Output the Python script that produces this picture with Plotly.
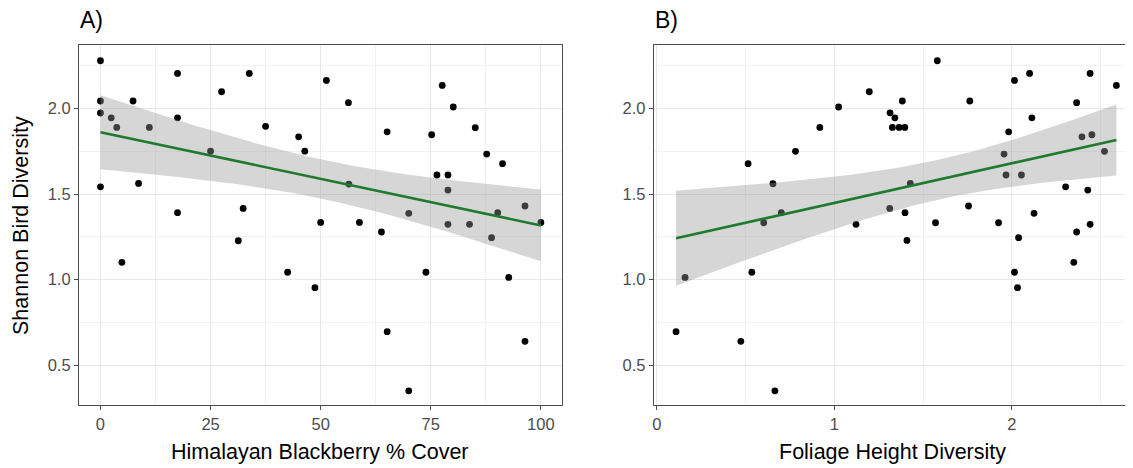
import numpy as np
import plotly.graph_objects as go

# Panel A: Himalayan Blackberry % Cover vs Shannon Bird Diversity
cover_x = [0, 0, 0, 0, 2.45, 3.7, 4.87, 7.4, 8.65, 11.1, 17.5, 17.5, 17.5, 25.0, 27.5,
           31.3, 32.4, 33.8, 37.5, 42.5, 45.0, 46.4, 48.7, 50.0, 51.3, 56.3, 56.4, 58.8,
           63.8, 65.1, 65.1, 70.0, 70.0, 73.9, 75.2, 76.4, 77.6, 78.9, 78.9, 78.9, 80.1,
           83.8, 85.1, 87.7, 88.8, 90.2, 91.3, 92.7, 96.4, 96.4, 100.0]
cover_y = [2.278, 2.043, 1.973, 1.542, 1.945, 1.889, 1.101, 2.043, 1.562, 1.889, 2.204, 1.945,
           1.391, 1.750, 2.097, 1.227, 1.416, 2.204, 1.895, 1.043, 1.834, 1.750, 0.953, 1.334,
           2.163, 2.033, 1.558, 1.334, 1.278, 1.863, 0.696, 1.387, 0.351, 1.043, 1.846, 1.611,
           2.134, 1.611, 1.523, 1.323, 2.008, 1.323, 1.887, 1.733, 1.245, 1.391, 1.677, 1.013,
           1.430, 0.640, 1.334]

# Panel B: Foliage Height Diversity vs Shannon Bird Diversity
fhd_x = [0.108, 0.159, 0.473, 0.514, 0.535, 0.602, 0.654, 0.665, 0.701, 0.781, 0.918, 1.024,
         1.122, 1.197, 1.312, 1.314, 1.341, 1.327, 1.365, 1.397, 1.383, 1.398, 1.409, 1.428,
         1.570, 1.580, 1.756, 1.763, 1.925, 1.956, 1.967, 1.982, 2.015, 2.015, 2.032, 2.038,
         2.054, 2.100, 2.113, 2.125, 2.303, 2.349, 2.365, 2.365, 2.395, 2.428, 2.441, 2.441,
         2.451, 2.522, 2.589]
fhd_y = [0.696, 1.013, 0.640, 1.677, 1.043, 1.332, 1.560, 0.351, 1.391, 1.749, 1.889, 2.008,
         1.323, 2.097, 1.416, 1.974, 1.945, 1.889, 1.889, 1.889, 2.043, 1.391, 1.229, 1.562,
         1.332, 2.278, 1.430, 2.043, 1.332, 1.733, 1.611, 1.863, 2.163, 1.043, 0.953, 1.245,
         1.611, 2.204, 1.945, 1.387, 1.542, 1.101, 2.033, 1.278, 1.834, 1.523, 2.204, 1.323,
         1.846, 1.749, 2.134]

y_ticks = [0.5, 1.0, 1.5, 2.0]
y_tick_text = ["0.5", "1.0", "1.5", "2.0"]
cover_ticks = [0, 25, 50, 75, 100]
fhd_ticks = [0, 1, 2]

panel_titles = ["A)", "B)"]
x_titles = ["Himalayan Blackberry % Cover", "Foliage Height Diversity"]
y_title = "Shannon Bird Diversity"

T95 = 2.0096  # t quantile, df = 49


def lm_band(x, y, n=80):
    x = np.asarray(x, float)
    y = np.asarray(y, float)
    b1, b0 = np.polyfit(x, y, 1)
    resid = y - (b0 + b1 * x)
    s = np.sqrt(np.sum(resid ** 2) / (len(x) - 2))
    xs = np.linspace(x.min(), x.max(), n)
    fit = b0 + b1 * xs
    se = s * np.sqrt(1 / len(x) + (xs - x.mean()) ** 2 / np.sum((x - x.mean()) ** 2))
    return xs, fit, fit - T95 * se, fit + T95 * se


# the page body adds an 8px margin, so the figure is drawn 8px in from the corner
OFF = 8
W, H = 1133 - OFF, 468 - OFF
FONT = "Liberation Sans"


def px(v):
    return (v - OFF) / W


def py(v):
    return 1 - (v - OFF) / H


fig = go.Figure()

panels = [(cover_x, cover_y, "x", "y"), (fhd_x, fhd_y, "x2", "y2")]
for xv, yv, xa, ya in panels:
    fig.add_trace(go.Scatter(x=xv, y=yv, mode="markers", xaxis=xa, yaxis=ya,
                             marker=dict(color="black", size=6.8, line=dict(width=0)),
                             showlegend=False, hoverinfo="x+y"))
    xs, fit, lo, hi = lm_band(xv, yv)
    fig.add_trace(go.Scatter(x=np.concatenate([xs, xs[::-1]]),
                             y=np.concatenate([hi, lo[::-1]]),
                             fill="toself", fillcolor="rgba(153,153,153,0.4)",
                             line=dict(width=0), mode="lines", xaxis=xa, yaxis=ya,
                             showlegend=False, hoverinfo="skip"))
    fig.add_trace(go.Scatter(x=xs, y=fit, mode="lines", xaxis=xa, yaxis=ya,
                             line=dict(color="#1f7a2e", width=2.6),
                             showlegend=False, hoverinfo="skip"))

ydom = [py(405), py(45)]
minor_style = dict(showgrid=True, gridcolor="#f2f2f2", gridwidth=0.9, ticks="")
common_axis = dict(showline=True, linecolor="#4d4d4d", linewidth=1, mirror=True,
                   showgrid=True, gridcolor="#e8e8e8", gridwidth=1.3,
                   ticks="outside", ticklen=4, tickcolor="#4d4d4d", tickwidth=1.2,
                   tickfont=dict(family=FONT, size=16.5, color="#4d4d4d"),
                   zeroline=False)

yaxis_common = dict(common_axis, range=[0.268, 2.37], tickvals=y_ticks, ticktext=y_tick_text,
                    domain=ydom)
fig.update_layout(
    width=W, height=H,
    margin=dict(l=0, r=0, t=0, b=0),
    paper_bgcolor="white", plot_bgcolor="white",
    xaxis=dict(common_axis, domain=[px(77), px(561)], range=[-4.9, 104.8],
               tickvals=cover_ticks, anchor="y",
               minor=dict(minor_style, tickvals=[12.5, 37.5, 62.5, 87.5])),
    yaxis=dict(yaxis_common, anchor="x",
               minor=dict(minor_style, tickvals=[0.75, 1.25, 1.75, 2.25])),
    xaxis2=dict(common_axis, domain=[px(653), px(1132)], range=[-0.017, 2.677],
                tickvals=fhd_ticks, anchor="y2",
                minor=dict(minor_style, tickvals=[0.5, 1.5, 2.5])),
    yaxis2=dict(yaxis_common, anchor="x2",
                minor=dict(minor_style, tickvals=[0.75, 1.25, 1.75, 2.25])),
)

ann = []
for title, x0 in zip(panel_titles, [76, 652]):
    ann.append(dict(text=title, x=px(x0), y=py(20), xref="paper",
                    yref="paper", xanchor="left", yanchor="middle", showarrow=False,
                    font=dict(family=FONT, size=23, color="black")))
for title, (a, b) in zip(x_titles, [(77, 561), (653, 1132)]):
    ann.append(dict(text=title, x=px((a + b) / 2), y=py(452), xref="paper", yref="paper",
                    xanchor="center", yanchor="middle", showarrow=False,
                    font=dict(family=FONT, size=21.5, color="black")))
ann.append(dict(text=y_title, x=px(19), y=py(225), xref="paper", yref="paper",
                xanchor="center", yanchor="middle", showarrow=False, textangle=-90,
                font=dict(family=FONT, size=21.5, color="black")))
fig.update_layout(annotations=ann)

fig.write_html("out.html")
